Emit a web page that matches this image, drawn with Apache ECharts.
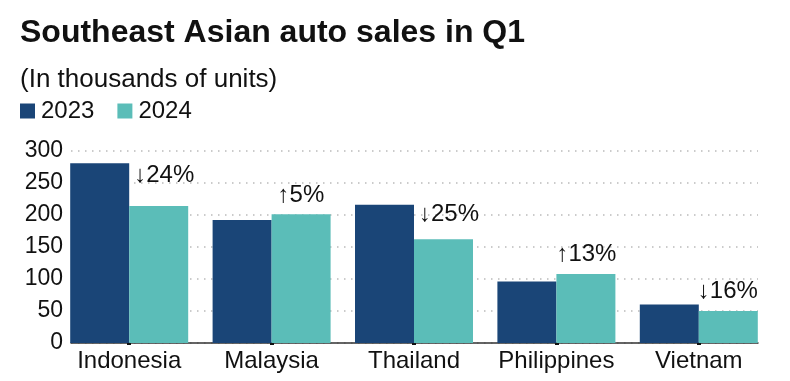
<!DOCTYPE html>
<html><head><meta charset="utf-8">
<script src="https://cdn.jsdelivr.net/npm/echarts@6/dist/echarts.min.js"></script>
<style>html,body{margin:0;padding:0;background:#fff}#c{width:790px;height:381px}</style>
</head><body><div id="c"></div>
<script>
const categories = ['Indonesia', 'Malaysia', 'Thailand', 'Philippines', 'Vietnam'];
const sales2023 = [281, 192, 216, 96, 60];
const sales2024 = [214, 201, 162, 108, 50];
const changeLabels = ['↓24%', '↑5%', '↓25%', '↑13%', '↓16%'];
const yTicks = [0, 50, 100, 150, 200, 250, 300];

const labelDx = [5, 6, 5, 0, -1];
const labelDy = [-19, -7, -13, -8, -8];
const FONT = '"Liberation Sans", Arial, sans-serif';
const C23 = '#1a4577', C24 = '#5bbdb8';

const chart = echarts.init(document.getElementById('c'));
chart.setOption({
  animation: false,
  title: [
    { text: 'Southeast Asian auto sales in Q1', left: 15, top: 12,
      textStyle: { fontFamily: FONT, fontSize: 32, fontWeight: 'bold', color: '#111' } },
    { text: '(In thousands of units)', left: 15, top: 62,
      textStyle: { fontFamily: FONT, fontSize: 26, fontWeight: 'normal', color: '#111' } }
  ],
  legend: {
    left: 15, top: 94, icon: 'rect', itemWidth: 15, itemHeight: 15, itemGap: 23,
    textStyle: { fontFamily: FONT, fontSize: 24, color: '#111', padding: [0, 0, 0, 1] },
    data: ['2023', '2024']
  },
  grid: [
    { left: 58, right: 20, top: 151, bottom: 38 },
    { left: 71, right: 32, top: 151, bottom: 38 }
  ],
  xAxis: [
    { type: 'category', gridIndex: 0, data: categories,
      axisLine: { show: false },
      axisTick: { show: true, alignWithLabel: true, length: 2, lineStyle: { color: '#111', width: 4 } },
      axisLabel: { interval: 0, hideOverlap: false, fontFamily: FONT, fontSize: 24, color: '#111', margin: 6 } },
    { type: 'value', gridIndex: 1, min: 0, max: 1,
      axisLine: { show: true, onZero: false, lineStyle: { color: '#333', width: 1.5 } },
      axisTick: { show: false }, axisLabel: { show: false }, splitLine: { show: false } }
  ],
  yAxis: [
    { type: 'value', gridIndex: 0, min: 0, max: 300, interval: 50, show: false, splitLine: { show: false } },
    { type: 'value', gridIndex: 1, min: yTicks[0], max: yTicks[yTicks.length - 1], interval: 50,
      axisLine: { show: false }, axisTick: { show: false },
      axisLabel: { fontFamily: FONT, fontSize: 23, color: '#111', margin: 8 },
      splitLine: { show: true, lineStyle: { color: '#bbbbbb', type: [1.5, 5.5], width: 1.5 } } }
  ],
  series: [
    { name: '2023', type: 'bar', xAxisIndex: 0, yAxisIndex: 0, data: sales2023,
      barWidth: 59, barGap: '0%', itemStyle: { color: C23 }, z: 3 },
    { name: '2024', type: 'bar', xAxisIndex: 0, yAxisIndex: 0, barWidth: 59, barGap: '0%',
      itemStyle: { color: C24 }, z: 3,
      data: sales2024.map((v, i) => ({
        value: v,
        label: { show: true, formatter: changeLabels[i], position: [labelDx[i], labelDy[i]],
          align: 'left', verticalAlign: 'bottom',
          fontFamily: FONT, fontSize: 24, color: '#111' }
      })) }
  ]
});
</script></body></html>
